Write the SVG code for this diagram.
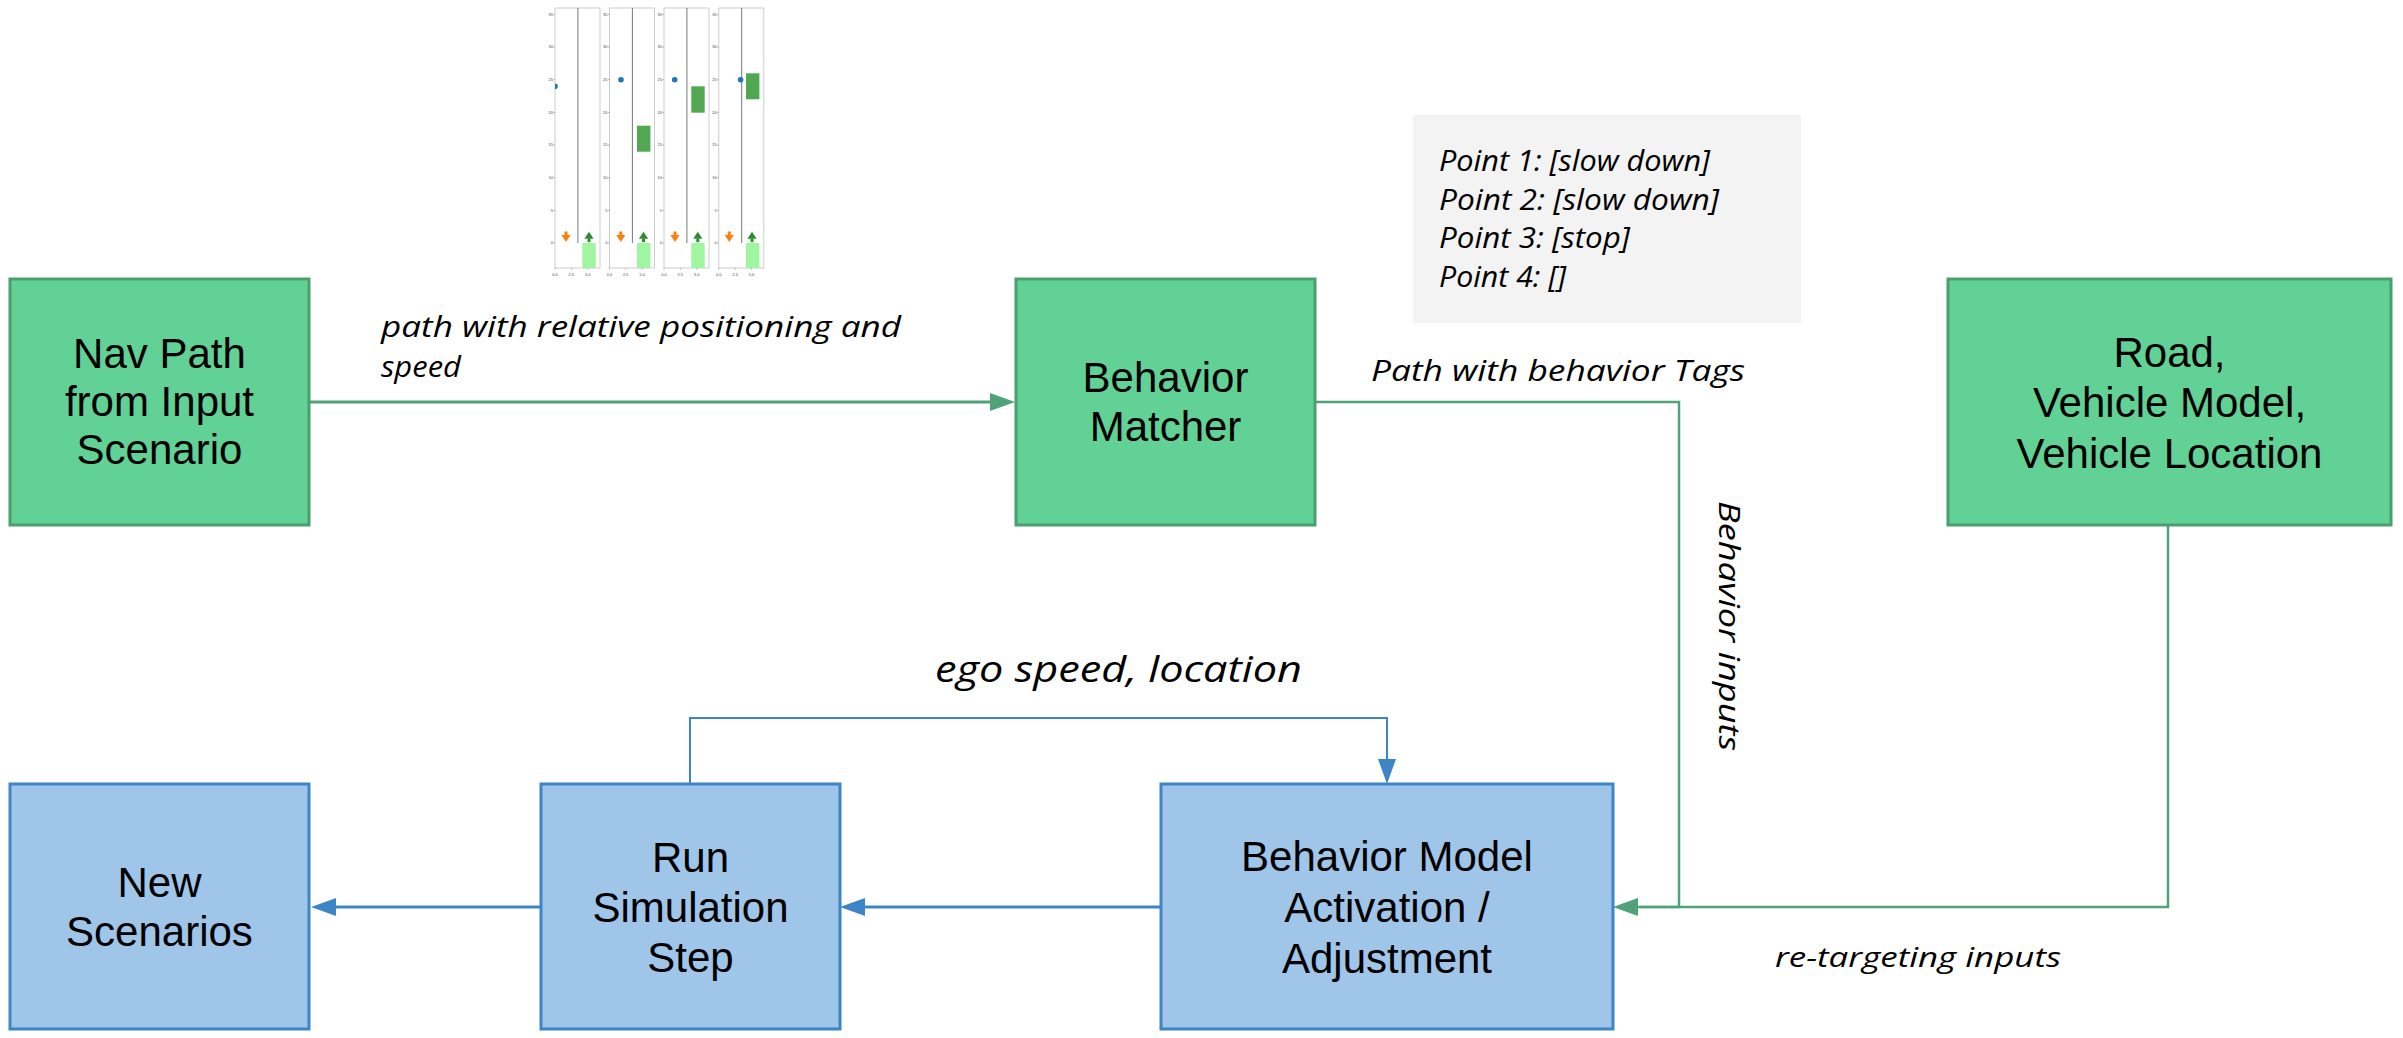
<svg xmlns="http://www.w3.org/2000/svg" xmlns:xlink="http://www.w3.org/1999/xlink" width="2403" height="1038" viewBox="0 0 2403 1038">
<style>
.gbox{fill:#62d196;stroke:#4a9f6f;stroke-width:3}
.bbox{fill:#9fc5e8;stroke:#3d85c6;stroke-width:3}
.nt{font-family:"Liberation Sans",Arial,sans-serif;font-size:42px;fill:#000;text-anchor:middle}
.lbl{font-family:"Open Sans",sans-serif;font-style:italic;fill:#000}
.gline{fill:none;stroke:#50a27a}
.bline{fill:none;stroke:#3d85c6}
.tk{font-family:"Liberation Sans",Arial,sans-serif;font-size:4px;fill:#444}
.frame{fill:#fff;stroke:#c8c8c8;stroke-width:0.9}
.div{stroke:#666;stroke-width:0.9}
</style>
<defs>
<marker id="ga" markerUnits="userSpaceOnUse" markerWidth="26" markerHeight="18" refX="15" refY="9" orient="auto"><path d="M0,0 L25,9 L0,18 z" fill="#50a27a"/></marker>
<marker id="ba" markerUnits="userSpaceOnUse" markerWidth="26" markerHeight="18" refX="15" refY="9" orient="auto"><path d="M0,0 L25,9 L0,18 z" fill="#3d85c6"/></marker>
<g id="downArrow"><rect x="-1.5" y="-10.5" width="3" height="3.5" fill="#ff7f0e"/><path d="M-4.6,-7 L4.6,-7 L0,0 z" fill="#ff7f0e"/></g>
<g id="upArrow"><rect x="-1.5" y="7" width="3" height="3.5" fill="#2e8b2e"/><path d="M-4.6,7 L4.6,7 L0,0 z" fill="#2e8b2e"/></g>
<g id="yticks">
<text class="tk" x="-2" y="15.8" text-anchor="end">35</text>
<text class="tk" x="-2" y="48.4" text-anchor="end">30</text>
<text class="tk" x="-2" y="81.1" text-anchor="end">25</text>
<text class="tk" x="-2" y="113.8" text-anchor="end">20</text>
<text class="tk" x="-2" y="146.4" text-anchor="end">15</text>
<text class="tk" x="-2" y="179.1" text-anchor="end">10</text>
<text class="tk" x="-2" y="211.8" text-anchor="end">5</text>
<text class="tk" x="-2" y="244.4" text-anchor="end">0</text>
<path d="M-1.5,14.4h1.5M-1.5,47h1.5M-1.5,79.7h1.5M-1.5,112.4h1.5M-1.5,145h1.5M-1.5,177.7h1.5M-1.5,210.4h1.5M-1.5,243h1.5M0,268v1.5M16.3,268v1.5M32.7,268v1.5" stroke="#666" stroke-width="0.5"/>
<text class="tk" x="0" y="276" text-anchor="middle">0.0</text>
<text class="tk" x="16.3" y="276" text-anchor="middle">2.5</text>
<text class="tk" x="32.7" y="276" text-anchor="middle">5.0</text>
</g>
<clipPath id="pc"><rect x="0" y="8" width="45" height="260"/></clipPath>
</defs>
<rect width="2403" height="1038" fill="#fff"/>

<g id="chart">
<g transform="translate(555,0)">
<rect class="frame" x="0" y="8" width="45" height="260"/>
<g clip-path="url(#pc)">
<line class="div" x1="22.9" y1="8" x2="22.9" y2="243"/>
<rect x="27.3" y="243" width="13.4" height="25" fill="#a0f5a0"/>
<circle cx="0" cy="86.3" r="2.8" fill="#1f77b4"/>
</g>
<use xlink:href="#downArrow" href="#downArrow" transform="translate(11,242)"/>
<use xlink:href="#upArrow" href="#upArrow" transform="translate(34,231.7)"/>
<use xlink:href="#yticks" href="#yticks"/>
</g>
<g transform="translate(609.5,0)">
<rect class="frame" x="0" y="8" width="45" height="260"/>
<g clip-path="url(#pc)">
<line class="div" x1="22.9" y1="8" x2="22.9" y2="243"/>
<rect x="27.5" y="243" width="13.4" height="25" fill="#a0f5a0"/>
<rect x="27.5" y="125.7" width="13.4" height="26" fill="#52a852"/>
<circle cx="11.5" cy="79.7" r="2.8" fill="#1f77b4"/>
</g>
<use xlink:href="#downArrow" href="#downArrow" transform="translate(11.3,242)"/>
<use xlink:href="#upArrow" href="#upArrow" transform="translate(34,231.7)"/>
<use xlink:href="#yticks" href="#yticks"/>
</g>
<g transform="translate(664,0)">
<rect class="frame" x="0" y="8" width="45" height="260"/>
<g clip-path="url(#pc)">
<line class="div" x1="22.9" y1="8" x2="22.9" y2="243"/>
<rect x="27.3" y="243" width="13.4" height="25" fill="#a0f5a0"/>
<rect x="27.3" y="86.3" width="13.4" height="26.4" fill="#52a852"/>
<circle cx="10.7" cy="79.7" r="2.8" fill="#1f77b4"/>
</g>
<use xlink:href="#downArrow" href="#downArrow" transform="translate(11,242)"/>
<use xlink:href="#upArrow" href="#upArrow" transform="translate(33.8,231.7)"/>
<use xlink:href="#yticks" href="#yticks"/>
</g>
<g transform="translate(718.8,0)">
<rect class="frame" x="0" y="8" width="45" height="260"/>
<g clip-path="url(#pc)">
<line class="div" x1="22.9" y1="8" x2="22.9" y2="243"/>
<rect x="27.2" y="243" width="13.4" height="25" fill="#a0f5a0"/>
<rect x="27.2" y="73.3" width="13.4" height="26" fill="#52a852"/>
<circle cx="21.8" cy="79.7" r="2.8" fill="#1f77b4"/>
</g>
<use xlink:href="#downArrow" href="#downArrow" transform="translate(10.5,242)"/>
<use xlink:href="#upArrow" href="#upArrow" transform="translate(33.2,231.7)"/>
<use xlink:href="#yticks" href="#yticks"/>
</g>
</g>

<g id="tags">
<rect x="1413" y="115" width="388" height="208" fill="#f3f3f3"/>
<text class="lbl" font-size="29" x="1439" y="171" textLength="271" lengthAdjust="spacingAndGlyphs">Point 1: [slow down]</text>
<text class="lbl" font-size="29" x="1439" y="210" textLength="280" lengthAdjust="spacingAndGlyphs">Point 2: [slow down]</text>
<text class="lbl" font-size="29" x="1439" y="248" textLength="191" lengthAdjust="spacingAndGlyphs">Point 3: [stop]</text>
<text class="lbl" font-size="29" x="1439" y="287" textLength="127" lengthAdjust="spacingAndGlyphs">Point 4: []</text>
</g>

<g id="connectors">
<line class="gline" stroke-width="3" x1="309" y1="402" x2="1005" y2="402" marker-end="url(#ga)"/>
<polyline class="gline" stroke-width="2.5" points="1315,402 1679,402 1679,907 1640,907"/>
<polyline class="gline" stroke-width="2.5" points="2168,525 2168,907 1623,907" marker-end="url(#ga)"/>
<line class="bline" stroke-width="3" x1="1161" y1="907" x2="850" y2="907" marker-end="url(#ba)"/>
<line class="bline" stroke-width="3" x1="541" y1="907" x2="321" y2="907" marker-end="url(#ba)"/>
<polyline class="bline" stroke-width="2" points="690,784 690,718 1387,718 1387,774" marker-end="url(#ba)"/>
<text class="lbl" font-size="30" x="381" y="337" textLength="520" lengthAdjust="spacingAndGlyphs">path with relative positioning and</text>
<text class="lbl" font-size="30" x="381" y="377" textLength="80" lengthAdjust="spacingAndGlyphs">speed</text>
<text class="lbl" font-size="29" x="1371" y="381" textLength="374" lengthAdjust="spacingAndGlyphs">Path with behavior Tags</text>
<text class="lbl" font-size="29" transform="translate(1719,501) rotate(90)" x="0" y="0" textLength="250" lengthAdjust="spacingAndGlyphs">Behavior  inputs</text>
<text class="lbl" font-size="36" x="935" y="682" textLength="367" lengthAdjust="spacingAndGlyphs">ego speed, location</text>
<text class="lbl" font-size="28" x="1775" y="967" textLength="286" lengthAdjust="spacingAndGlyphs">re-targeting inputs</text>
</g>

<g id="nav-path">
<rect class="gbox" x="10" y="279" width="299" height="246"/>
<text class="nt" x="159.5" y="368">Nav Path</text>
<text class="nt" x="159.5" y="416">from Input</text>
<text class="nt" x="159.5" y="464">Scenario</text>
</g>
<g id="behavior-matcher">
<rect class="gbox" x="1016" y="279" width="299" height="246"/>
<text class="nt" x="1165.5" y="392">Behavior</text>
<text class="nt" x="1165.5" y="441">Matcher</text>
</g>
<g id="road-vehicle">
<rect class="gbox" x="1948" y="279" width="443" height="246"/>
<text class="nt" x="2169.5" y="367">Road,</text>
<text class="nt" x="2169.5" y="417">Vehicle Model,</text>
<text class="nt" x="2169.5" y="468">Vehicle Location</text>
</g>
<g id="new-scenarios">
<rect class="bbox" x="10" y="784" width="299" height="245"/>
<text class="nt" x="159.5" y="897">New</text>
<text class="nt" x="159.5" y="946">Scenarios</text>
</g>
<g id="run-simulation">
<rect class="bbox" x="541" y="784" width="299" height="245"/>
<text class="nt" x="690.5" y="872">Run</text>
<text class="nt" x="690.5" y="922">Simulation</text>
<text class="nt" x="690.5" y="972">Step</text>
</g>
<g id="behavior-model">
<rect class="bbox" x="1161" y="784" width="452" height="245"/>
<text class="nt" x="1387" y="871">Behavior Model</text>
<text class="nt" x="1387" y="922">Activation /</text>
<text class="nt" x="1387" y="973">Adjustment</text>
</g>
</svg>
